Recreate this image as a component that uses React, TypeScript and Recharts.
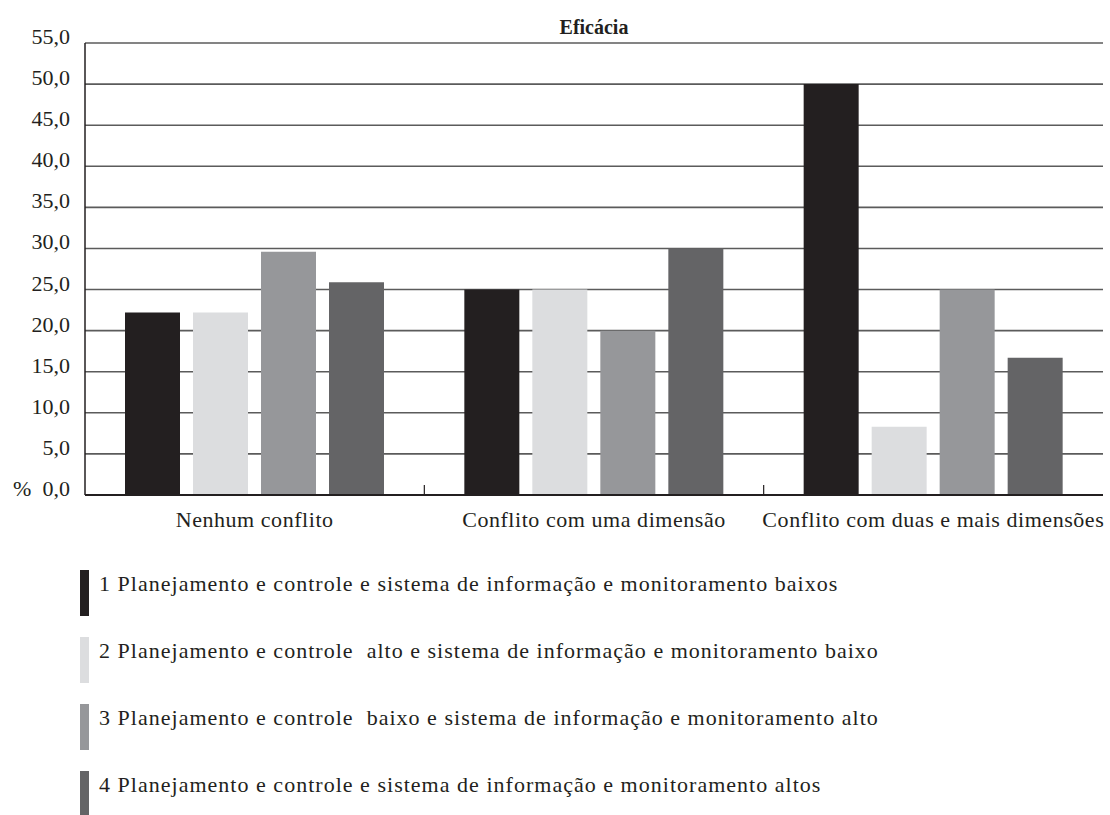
import { Bar, BarChart, CartesianGrid, Legend, XAxis, YAxis } from "recharts";

const CATEGORIES = [
  "Nenhum conflito",
  "Conflito com uma dimensão",
  "Conflito com duas e mais dimensões",
];

const SERIES_NAMES = [
  "1 Planejamento e controle e sistema de informação e monitoramento baixos",
  "2 Planejamento e controle  alto e sistema de informação e monitoramento baixo",
  "3 Planejamento e controle  baixo e sistema de informação e monitoramento alto",
  "4 Planejamento e controle e sistema de informação e monitoramento altos",
];

const SERIES_COLORS = ["#231f20", "#dcdddf", "#96979a", "#646466"];

const SERIES_1 = [22.2, 25.0, 50.0];
const SERIES_2 = [22.2, 25.0, 8.3];
const SERIES_3 = [29.6, 20.0, 25.0];
const SERIES_4 = [25.9, 30.0, 16.7];

const Y_TICKS = [0, 5, 10, 15, 20, 25, 30, 35, 40, 45, 50, 55];

const data = CATEGORIES.map((name, i) => ({
  name,
  s1: SERIES_1[i],
  s2: SERIES_2[i],
  s3: SERIES_3[i],
  s4: SERIES_4[i],
}));

const FONT = "Liberation Serif";
const PLOT_LEFT = 85;
const PLOT_RIGHT = 1103;
const PLOT_BOTTOM = 495;
const BAND = (PLOT_RIGHT - PLOT_LEFT) / CATEGORIES.length;

const YTick = (props: any) => {
  const { x, y, payload } = props;
  return (
    <g>
      {payload.value === 0 && (
        <text x={13} y={y + 1} fontFamily={FONT} fontSize={22} fill="#231f20">
          %
        </text>
      )}
      <text
        x={x}
        y={y + 1}
        textAnchor="end"
        fontFamily={FONT}
        fontSize={22}
        fill="#231f20"
      >
        {payload.value.toFixed(1).replace(".", ",")}
      </text>
    </g>
  );
};

const XTick = (props: any) => {
  const { x, payload, index } = props;
  return (
    <g>
      {index > 0 && (
        <line
          x1={x - BAND / 2}
          x2={x - BAND / 2}
          y1={PLOT_BOTTOM}
          y2={PLOT_BOTTOM - 10}
          stroke="#231f20"
          strokeWidth={1.2}
        />
      )}
      <text
        x={x}
        y={527}
        textAnchor="middle"
        fontFamily={FONT}
        fontSize={22}
        letterSpacing={0.55}
        fill="#231f20"
      >
        {payload.value}
      </text>
    </g>
  );
};

const LegendList = () => (
  <div style={{ fontFamily: FONT, fontSize: 22, color: "#231f20" }}>
    {SERIES_NAMES.map((name, i) => (
      <div
        key={name}
        style={{ position: "relative", height: 67, whiteSpace: "pre" }}
      >
        <div
          style={{
            position: "absolute",
            left: 0,
            top: 0,
            width: 9,
            height: 46,
            background: SERIES_COLORS[i],
          }}
        />
        <div
          style={{
            position: "absolute",
            left: 19,
            top: 14,
            lineHeight: "0px",
            letterSpacing: 1.02,
          }}
        >
          {name}
        </div>
      </div>
    ))}
  </div>
);

export default function App() {
  return (
    <div
      style={{
        position: "absolute",
        left: 0,
        top: 0,
        width: 1110,
        height: 815,
        background: "#fff",
        overflow: "hidden",
      }}
    >
      <div
        style={{
          position: "absolute",
          left: PLOT_LEFT,
          width: PLOT_RIGHT - PLOT_LEFT,
          top: 16,
          textAlign: "center",
          fontFamily: FONT,
          fontWeight: "bold",
          fontSize: 20,
          color: "#231f20",
        }}
      >
        Eficácia
      </div>
      <BarChart
        width={1110}
        height={815}
        data={data}
        margin={{ top: 43, right: 7, bottom: 290, left: 0 }}
        barCategoryGap={40}
        barGap={13}
      >
        <CartesianGrid
          yAxisId="left"
          vertical={false}
          stroke="#5b5b5b"
          strokeWidth={1.6}
        />
        <XAxis
          dataKey="name"
          height={30}
          tickLine={false}
          axisLine={{ stroke: "#231f20", strokeWidth: 2 }}
          tick={<XTick />}
          interval={0}
        />
        <YAxis
          yAxisId="left"
          width={85}
          domain={[0, 55]}
          ticks={Y_TICKS}
          tickLine={false}
          tickMargin={9}
          axisLine={{ stroke: "#231f20", strokeWidth: 1.5 }}
          tick={<YTick />}
        />
        <YAxis
          yAxisId="right"
          orientation="right"
          width={0}
          domain={[0, 55]}
          tick={false}
          tickLine={false}
          axisLine={{ stroke: "#231f20", strokeWidth: 2 }}
        />
        <Bar yAxisId="left" dataKey="s1" name={SERIES_NAMES[0]} fill={SERIES_COLORS[0]} isAnimationActive={false} />
        <Bar yAxisId="left" dataKey="s2" name={SERIES_NAMES[1]} fill={SERIES_COLORS[1]} isAnimationActive={false} />
        <Bar yAxisId="left" dataKey="s3" name={SERIES_NAMES[2]} fill={SERIES_COLORS[2]} isAnimationActive={false} />
        <Bar yAxisId="left" dataKey="s4" name={SERIES_NAMES[3]} fill={SERIES_COLORS[3]} isAnimationActive={false} />
        <Legend
          layout="vertical"
          align="center"
          verticalAlign="middle"
          content={<LegendList />}
          wrapperStyle={{ position: "absolute", left: 80, top: 570, width: 1000 }}
        />
      </BarChart>
    </div>
  );
}
